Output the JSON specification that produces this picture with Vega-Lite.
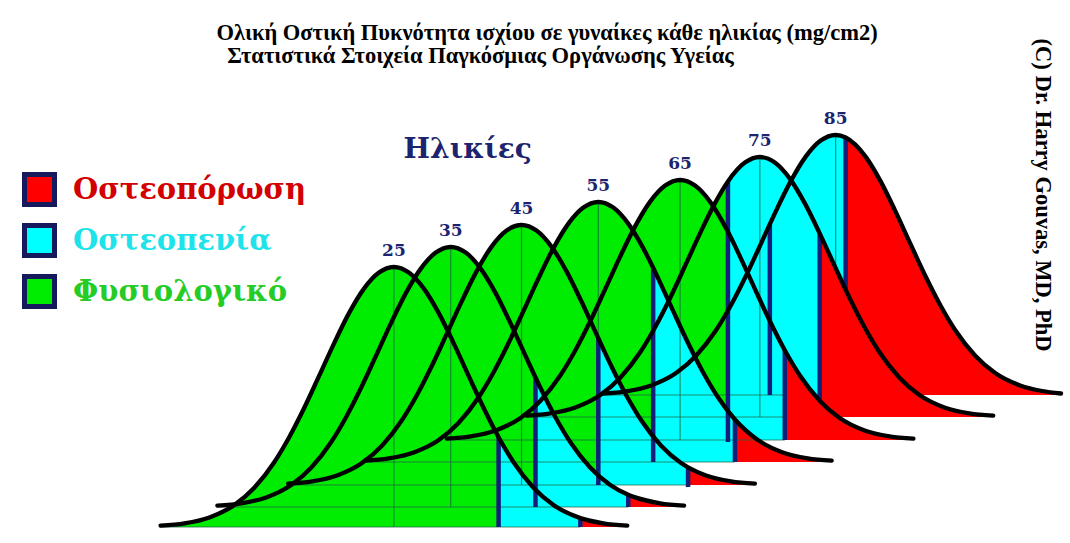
{
"$schema": "https://vega.github.io/schema/vega-lite/v6.json",
"width": 1070, "height": 543,
"autosize": {"type": "fit", "contains": "padding"},
"padding": 0,
"background": "white",
"config": {"view": {"stroke": null}, "axis": {"disable": true}},
"datasets": {
"curves": [
{"c":25,"x":161,"y":525.7,"z":"g"},{"c":25,"x":185,"y":523.3,"z":"g"},{"c":25,"x":210,"y":517.4,"z":"g"},{"c":25,"x":235,"y":505.0,"z":"g"},{"c":25,"x":255,"y":487.7,"z":"g"},{"c":25,"x":275,"y":462.2,"z":"g"},{"c":25,"x":290,"y":437.2,"z":"g"},{"c":25,"x":305,"y":408.0,"z":"g"},{"c":25,"x":320,"y":375.9,"z":"g"},{"c":25,"x":335,"y":343.3,"z":"g"},{"c":25,"x":350,"y":313.1,"z":"g"},{"c":25,"x":365,"y":288.6,"z":"g"},{"c":25,"x":380,"y":272.6,"z":"g"},{"c":25,"x":395,"y":267.0,"z":"g"},{"c":25,"x":410,"y":272.6,"z":"g"},{"c":25,"x":425,"y":288.6,"z":"g"},{"c":25,"x":440,"y":313.1,"z":"g"},{"c":25,"x":455,"y":343.3,"z":"g"},{"c":25,"x":470,"y":375.9,"z":"g"},{"c":25,"x":485,"y":408.0,"z":"g"},{"c":25,"x":500,"y":437.2,"z":"g"},
{"c":25,"x":500,"y":437.2,"z":"c","d":1},{"c":25,"x":515,"y":462.2,"z":"c"},{"c":25,"x":535,"y":487.7,"z":"c"},{"c":25,"x":555,"y":505.0,"z":"c"},{"c":25,"x":582,"y":518.1,"z":"c"},
{"c":25,"x":582,"y":518.1,"z":"r","d":1},{"c":25,"x":605,"y":523.3,"z":"r"},{"c":25,"x":629,"y":525.7,"z":"r"},

{"c":35,"x":218,"y":505.7,"z":"g"},{"c":35,"x":242,"y":503.3,"z":"g"},{"c":35,"x":267,"y":497.4,"z":"g"},{"c":35,"x":292,"y":485.0,"z":"g"},{"c":35,"x":312,"y":467.7,"z":"g"},{"c":35,"x":332,"y":442.2,"z":"g"},{"c":35,"x":347,"y":417.2,"z":"g"},{"c":35,"x":362,"y":388.0,"z":"g"},{"c":35,"x":377,"y":355.9,"z":"g"},{"c":35,"x":392,"y":323.3,"z":"g"},{"c":35,"x":407,"y":293.1,"z":"g"},{"c":35,"x":422,"y":268.6,"z":"g"},{"c":35,"x":437,"y":252.6,"z":"g"},{"c":35,"x":452,"y":247.0,"z":"g"},{"c":35,"x":467,"y":252.6,"z":"g"},{"c":35,"x":482,"y":268.6,"z":"g"},{"c":35,"x":497,"y":293.1,"z":"g"},{"c":35,"x":512,"y":323.3,"z":"g"},{"c":35,"x":527,"y":355.9,"z":"g"},{"c":35,"x":537,"y":377.5,"z":"g"},
{"c":35,"x":537,"y":377.5,"z":"c","d":1},{"c":35,"x":542,"y":388.0,"z":"c"},{"c":35,"x":557,"y":417.2,"z":"c"},{"c":35,"x":572,"y":442.2,"z":"c"},{"c":35,"x":592,"y":467.7,"z":"c"},{"c":35,"x":612,"y":485.0,"z":"c"},{"c":35,"x":630,"y":494.8,"z":"c"},
{"c":35,"x":630,"y":494.8,"z":"r","d":1},{"c":35,"x":637,"y":497.4,"z":"r"},{"c":35,"x":662,"y":503.3,"z":"r"},{"c":35,"x":686,"y":505.7,"z":"r"},

{"c":45,"x":289,"y":483.7,"z":"g"},{"c":45,"x":313,"y":481.3,"z":"g"},{"c":45,"x":338,"y":475.4,"z":"g"},{"c":45,"x":363,"y":463.0,"z":"g"},{"c":45,"x":383,"y":445.7,"z":"g"},{"c":45,"x":403,"y":420.2,"z":"g"},{"c":45,"x":418,"y":395.2,"z":"g"},{"c":45,"x":433,"y":366.0,"z":"g"},{"c":45,"x":448,"y":333.9,"z":"g"},{"c":45,"x":463,"y":301.3,"z":"g"},{"c":45,"x":478,"y":271.1,"z":"g"},{"c":45,"x":493,"y":246.6,"z":"g"},{"c":45,"x":508,"y":230.6,"z":"g"},{"c":45,"x":523,"y":225.0,"z":"g"},{"c":45,"x":538,"y":230.6,"z":"g"},{"c":45,"x":553,"y":246.6,"z":"g"},{"c":45,"x":568,"y":271.1,"z":"g"},{"c":45,"x":583,"y":301.3,"z":"g"},{"c":45,"x":600,"y":338.2,"z":"g"},
{"c":45,"x":600,"y":338.2,"z":"c","d":1},{"c":45,"x":613,"y":366.0,"z":"c"},{"c":45,"x":628,"y":395.2,"z":"c"},{"c":45,"x":643,"y":420.2,"z":"c"},{"c":45,"x":663,"y":445.7,"z":"c"},{"c":45,"x":683,"y":463.0,"z":"c"},{"c":45,"x":690,"y":467.3,"z":"c"},
{"c":45,"x":690,"y":467.3,"z":"r","d":1},{"c":45,"x":708,"y":475.4,"z":"r"},{"c":45,"x":733,"y":481.3,"z":"r"},{"c":45,"x":757,"y":483.7,"z":"r"},

{"c":55,"x":366,"y":460.7,"z":"g"},{"c":55,"x":390,"y":458.3,"z":"g"},{"c":55,"x":415,"y":452.4,"z":"g"},{"c":55,"x":440,"y":440.0,"z":"g"},{"c":55,"x":460,"y":422.7,"z":"g"},{"c":55,"x":480,"y":397.2,"z":"g"},{"c":55,"x":495,"y":372.2,"z":"g"},{"c":55,"x":510,"y":343.0,"z":"g"},{"c":55,"x":525,"y":310.9,"z":"g"},{"c":55,"x":540,"y":278.3,"z":"g"},{"c":55,"x":555,"y":248.1,"z":"g"},{"c":55,"x":570,"y":223.6,"z":"g"},{"c":55,"x":585,"y":207.6,"z":"g"},{"c":55,"x":600,"y":202.0,"z":"g"},{"c":55,"x":615,"y":207.6,"z":"g"},{"c":55,"x":630,"y":223.6,"z":"g"},{"c":55,"x":645,"y":248.1,"z":"g"},{"c":55,"x":655,"y":267.8,"z":"g"},
{"c":55,"x":655,"y":267.8,"z":"c","d":1},{"c":55,"x":660,"y":278.3,"z":"c"},{"c":55,"x":675,"y":310.9,"z":"c"},{"c":55,"x":690,"y":343.0,"z":"c"},{"c":55,"x":705,"y":372.2,"z":"c"},{"c":55,"x":720,"y":397.2,"z":"c"},{"c":55,"x":737,"y":419.5,"z":"c"},
{"c":55,"x":737,"y":419.5,"z":"r","d":1},{"c":55,"x":760,"y":440.0,"z":"r"},{"c":55,"x":785,"y":452.4,"z":"r"},{"c":55,"x":810,"y":458.3,"z":"r"},{"c":55,"x":834,"y":460.7,"z":"r"},

{"c":65,"x":448,"y":438.7,"z":"g"},{"c":65,"x":472,"y":436.3,"z":"g"},{"c":65,"x":497,"y":430.4,"z":"g"},{"c":65,"x":522,"y":418.0,"z":"g"},{"c":65,"x":542,"y":400.7,"z":"g"},{"c":65,"x":562,"y":375.2,"z":"g"},{"c":65,"x":577,"y":350.2,"z":"g"},{"c":65,"x":592,"y":321.0,"z":"g"},{"c":65,"x":607,"y":288.9,"z":"g"},{"c":65,"x":622,"y":256.3,"z":"g"},{"c":65,"x":637,"y":226.1,"z":"g"},{"c":65,"x":652,"y":201.6,"z":"g"},{"c":65,"x":667,"y":185.6,"z":"g"},{"c":65,"x":682,"y":180.0,"z":"g"},{"c":65,"x":697,"y":185.6,"z":"g"},{"c":65,"x":712,"y":201.6,"z":"g"},{"c":65,"x":730,"y":231.8,"z":"g"},
{"c":65,"x":730,"y":231.8,"z":"c","d":1},{"c":65,"x":742,"y":256.3,"z":"c"},{"c":65,"x":757,"y":288.9,"z":"c"},{"c":65,"x":772,"y":321.0,"z":"c"},{"c":65,"x":787,"y":350.2,"z":"c"},
{"c":65,"x":787,"y":350.2,"z":"r","d":1},{"c":65,"x":802,"y":375.2,"z":"r"},{"c":65,"x":822,"y":400.7,"z":"r"},{"c":65,"x":842,"y":418.0,"z":"r"},{"c":65,"x":867,"y":430.4,"z":"r"},{"c":65,"x":892,"y":436.3,"z":"r"},{"c":65,"x":916,"y":438.7,"z":"r"},

{"c":75,"x":528,"y":415.7,"z":"g"},{"c":75,"x":552,"y":413.3,"z":"g"},{"c":75,"x":577,"y":407.4,"z":"g"},{"c":75,"x":602,"y":395.0,"z":"g"},{"c":75,"x":622,"y":377.7,"z":"g"},{"c":75,"x":642,"y":352.2,"z":"g"},{"c":75,"x":657,"y":327.2,"z":"g"},{"c":75,"x":672,"y":298.0,"z":"g"},{"c":75,"x":687,"y":265.9,"z":"g"},{"c":75,"x":702,"y":233.3,"z":"g"},{"c":75,"x":717,"y":203.1,"z":"g"},{"c":75,"x":730,"y":181.4,"z":"g"},
{"c":75,"x":730,"y":181.4,"z":"c","d":1},{"c":75,"x":747,"y":162.6,"z":"c"},{"c":75,"x":762,"y":157.0,"z":"c"},{"c":75,"x":777,"y":162.6,"z":"c"},{"c":75,"x":792,"y":178.6,"z":"c"},{"c":75,"x":807,"y":203.1,"z":"c"},{"c":75,"x":822,"y":233.3,"z":"c"},
{"c":75,"x":822,"y":233.3,"z":"r","d":1},{"c":75,"x":837,"y":265.9,"z":"r"},{"c":75,"x":852,"y":298.0,"z":"r"},{"c":75,"x":867,"y":327.2,"z":"r"},{"c":75,"x":882,"y":352.2,"z":"r"},{"c":75,"x":902,"y":377.7,"z":"r"},{"c":75,"x":922,"y":395.0,"z":"r"},{"c":75,"x":947,"y":407.4,"z":"r"},{"c":75,"x":972,"y":413.3,"z":"r"},{"c":75,"x":996,"y":415.7,"z":"r"},

{"c":85,"x":604,"y":393.7,"z":"g"},{"c":85,"x":628,"y":391.3,"z":"g"},{"c":85,"x":653,"y":385.4,"z":"g"},{"c":85,"x":678,"y":373.0,"z":"g"},{"c":85,"x":698,"y":355.7,"z":"g"},{"c":85,"x":718,"y":330.2,"z":"g"},{"c":85,"x":733,"y":305.2,"z":"g"},{"c":85,"x":748,"y":276.0,"z":"g"},{"c":85,"x":763,"y":243.9,"z":"g"},{"c":85,"x":772,"y":224.2,"z":"g"},
{"c":85,"x":772,"y":224.2,"z":"c","d":1},{"c":85,"x":778,"y":211.3,"z":"c"},{"c":85,"x":793,"y":181.1,"z":"c"},{"c":85,"x":808,"y":156.6,"z":"c"},{"c":85,"x":823,"y":140.6,"z":"c"},{"c":85,"x":838,"y":135.0,"z":"c"},{"c":85,"x":848,"y":137.5,"z":"c"},
{"c":85,"x":848,"y":137.5,"z":"r","d":1},{"c":85,"x":868,"y":156.6,"z":"r"},{"c":85,"x":883,"y":181.1,"z":"r"},{"c":85,"x":898,"y":211.3,"z":"r"},{"c":85,"x":913,"y":243.9,"z":"r"},{"c":85,"x":928,"y":276.0,"z":"r"},{"c":85,"x":943,"y":305.2,"z":"r"},{"c":85,"x":958,"y":330.2,"z":"r"},{"c":85,"x":978,"y":355.7,"z":"r"},{"c":85,"x":998,"y":373.0,"z":"r"},{"c":85,"x":1023,"y":385.4,"z":"r"},{"c":85,"x":1045,"y":391.0,"z":"r"},{"c":85,"x":1064,"y":393.5,"z":"r"}
],
"grid": [
{"x":161,"x2":582,"y":527,"y2":527},{"x":218,"x2":630,"y":507,"y2":507},{"x":289,"x2":690,"y":485,"y2":485},{"x":366,"x2":737,"y":462,"y2":462},{"x":448,"x2":787,"y":440,"y2":440},{"x":528,"x2":787,"y":417,"y2":417},{"x":604,"x2":787,"y":395,"y2":395},
{"x":395,"x2":395,"y":267,"y2":527},{"x":452,"x2":452,"y":247,"y2":507},{"x":523,"x2":523,"y":225,"y2":485},{"x":600,"x2":600,"y":202,"y2":462},{"x":682,"x2":682,"y":180,"y2":440},{"x":762,"x2":762,"y":157,"y2":417},{"x":838,"x2":838,"y":135,"y2":268}
],
"blue": [
{"x":500,"y":437,"y2":527},{"x":582,"y":518,"y2":527},{"x":537,"y":377,"y2":507},{"x":630,"y":495,"y2":507},{"x":600,"y":338,"y2":485},{"x":690,"y":467,"y2":487},{"x":655,"y":268,"y2":462},{"x":737,"y":419,"y2":462},{"x":730,"y":181,"y2":442},{"x":787,"y":350,"y2":440},{"x":822,"y":233,"y2":400},{"x":772,"y":224,"y2":395},{"x":848,"y":137,"y2":289}
],
"ages": [
{"age":"25","x":395,"y":267},{"age":"35","x":452,"y":247},{"age":"45","x":523,"y":225},{"age":"55","x":600,"y":202},{"age":"65","x":682,"y":180},{"age":"75","x":762,"y":157},{"age":"85","x":838,"y":135}
]
},
"encoding": {
"x": {"field": "x", "type": "quantitative", "scale": {"domain": [0, 1070], "nice": false, "zero": false}},
"y": {"field": "y", "type": "quantitative", "stack": null, "scale": {"domain": [0, 543], "reverse": true, "nice": false, "zero": false}}
},
"layer": [
{"data": {"name": "curves"}, "transform": [{"filter": "datum.c == 85"}],
 "mark": {"type": "area", "interpolate": "monotone", "opacity": 1},
 "encoding": {"y2": {"datum": 395},
  "color": {"field": "z", "type": "nominal",
   "scale": {"domain": ["r", "c", "g"], "range": ["#ff0000", "#00ffff", "#00ec00"]},
   "legend": {"orient": "none", "legendX": 22, "legendY": 172, "direction": "vertical", "title": null,
    "symbolType": "square", "symbolSize": 900, "symbolStrokeColor": "#141a5c", "symbolStrokeWidth": 5, "symbolOpacity": 1,
    "labelFont": "DejaVu Serif", "labelFontWeight": "bold", "labelFontSize": 29, "labelOffset": 16, "labelLimit": 600, "rowPadding": 0,
    "labelExpr": "datum.value == 'r' ? 'Οστεοπόρωση' : datum.value == 'c' ? 'Οστεοπενία' : 'Φυσιολογικό'",
    "encode": {"labels": {"update": {"fill": {"signal": "datum.value == 'r' ? '#d20000' : datum.value == 'c' ? '#1fe3ea' : '#25cc25'"}}}}}}}},
{"data": {"name": "curves"}, "transform": [{"filter": "datum.c == 75"}],
 "mark": {"type": "area", "interpolate": "monotone", "opacity": 1},
 "encoding": {"y2": {"datum": 417}, "color": {"field": "z", "type": "nominal", "scale": {"domain": ["r", "c", "g"], "range": ["#ff0000", "#00ffff", "#00ec00"]}}}},
{"data": {"name": "curves"}, "transform": [{"filter": "datum.c == 65"}],
 "mark": {"type": "area", "interpolate": "monotone", "opacity": 1},
 "encoding": {"y2": {"datum": 440}, "color": {"field": "z", "type": "nominal", "scale": {"domain": ["r", "c", "g"], "range": ["#ff0000", "#00ffff", "#00ec00"]}}}},
{"data": {"name": "curves"}, "transform": [{"filter": "datum.c == 55"}],
 "mark": {"type": "area", "interpolate": "monotone", "opacity": 1},
 "encoding": {"y2": {"datum": 462}, "color": {"field": "z", "type": "nominal", "scale": {"domain": ["r", "c", "g"], "range": ["#ff0000", "#00ffff", "#00ec00"]}}}},
{"data": {"name": "curves"}, "transform": [{"filter": "datum.c == 45"}],
 "mark": {"type": "area", "interpolate": "monotone", "opacity": 1},
 "encoding": {"y2": {"datum": 485}, "color": {"field": "z", "type": "nominal", "scale": {"domain": ["r", "c", "g"], "range": ["#ff0000", "#00ffff", "#00ec00"]}}}},
{"data": {"name": "curves"}, "transform": [{"filter": "datum.c == 35"}],
 "mark": {"type": "area", "interpolate": "monotone", "opacity": 1},
 "encoding": {"y2": {"datum": 507}, "color": {"field": "z", "type": "nominal", "scale": {"domain": ["r", "c", "g"], "range": ["#ff0000", "#00ffff", "#00ec00"]}}}},
{"data": {"name": "curves"}, "transform": [{"filter": "datum.c == 25"}],
 "mark": {"type": "area", "interpolate": "monotone", "opacity": 1},
 "encoding": {"y2": {"datum": 527}, "color": {"field": "z", "type": "nominal", "scale": {"domain": ["r", "c", "g"], "range": ["#ff0000", "#00ffff", "#00ec00"]}}}},
{"data": {"name": "grid"},
 "mark": {"type": "rule", "color": "#1f6a45", "strokeWidth": 1.2, "opacity": 0.75},
 "encoding": {"x2": {"field": "x2"}, "y2": {"field": "y2"}}},
{"data": {"name": "blue"},
 "mark": {"type": "rule", "color": "#121e7a", "strokeWidth": 4.5},
 "encoding": {"y2": {"field": "y2"}}},
{"data": {"name": "curves"}, "transform": [{"filter": "!datum.d"}],
 "mark": {"type": "line", "interpolate": "monotone", "color": "#000000", "strokeWidth": 4.3, "strokeCap": "round"},
 "encoding": {"detail": {"field": "c", "type": "nominal"}}},
{"data": {"name": "ages"},
 "mark": {"type": "text", "font": "DejaVu Serif", "fontWeight": "bold", "fontSize": 17, "color": "#1c2470", "dy": -16, "baseline": "middle", "align": "center"},
 "encoding": {"text": {"field": "age", "type": "nominal"}}},
{"data": {"name": "ages"}, "transform": [{"filter": "datum.age == '25'"}],
 "mark": {"type": "text", "font": "Liberation Serif", "fontWeight": "bold", "fontSize": 22.5, "color": "#000000", "align": "left", "baseline": "middle"},
 "encoding": {"x": {"datum": 217, "type": "quantitative"}, "y": {"datum": 33, "type": "quantitative"}, "text": {"value": "Ολική Οστική Πυκνότητα ισχίου σε γυναίκες κάθε ηλικίας (mg/cm2)"}}},
{"data": {"name": "ages"}, "transform": [{"filter": "datum.age == '25'"}],
 "mark": {"type": "text", "font": "Liberation Serif", "fontWeight": "bold", "fontSize": 22.5, "color": "#000000", "align": "left", "baseline": "middle"},
 "encoding": {"x": {"datum": 228, "type": "quantitative"}, "y": {"datum": 56, "type": "quantitative"}, "text": {"value": "Στατιστικά Στοιχεία Παγκόσμιας Οργάνωσης Υγείας"}}},
{"data": {"name": "ages"}, "transform": [{"filter": "datum.age == '25'"}],
 "mark": {"type": "text", "font": "DejaVu Serif", "fontWeight": "bold", "fontSize": 28, "color": "#1c2470", "align": "center", "baseline": "middle"},
 "encoding": {"x": {"datum": 469, "type": "quantitative"}, "y": {"datum": 150, "type": "quantitative"}, "text": {"value": "Ηλικίες"}}},
{"data": {"name": "ages"}, "transform": [{"filter": "datum.age == '25'"}],
 "mark": {"type": "text", "font": "Liberation Serif", "fontWeight": "bold", "fontSize": 22.5, "color": "#000000", "align": "center", "baseline": "middle", "angle": 90},
 "encoding": {"x": {"datum": 1046, "type": "quantitative"}, "y": {"datum": 195, "type": "quantitative"}, "text": {"value": "(C) Dr. Harry Gouvas, MD, PhD"}}}
]
}
